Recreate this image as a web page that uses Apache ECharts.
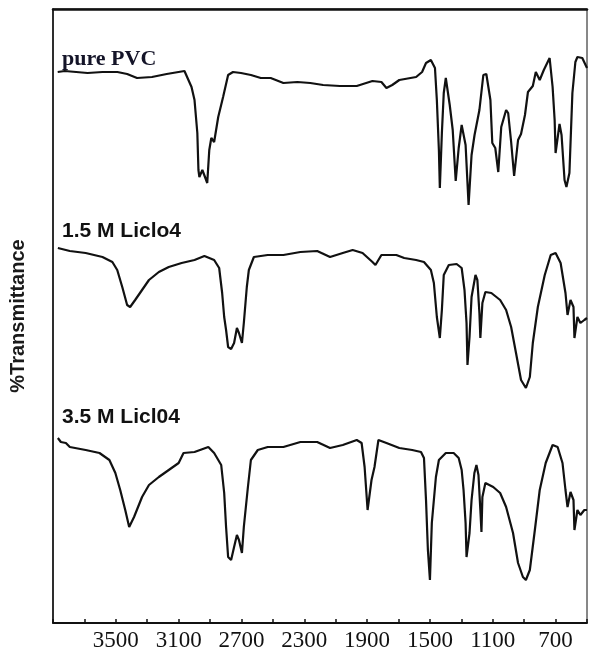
<!DOCTYPE html>
<html>
<head>
<meta charset="utf-8">
<script src="https://cdn.jsdelivr.net/npm/echarts@6/dist/echarts.min.js"></script>
<style>
html,body{margin:0;padding:0;background:#fff;}
#chart{width:590px;height:655px;}
</style>
</head>
<body>
<div id="chart"></div>
<script>
// FTIR spectra, wavenumber (cm-1) vs stacked transmittance (a.u.)
var sampleNames = ['pure PVC', '1.5 M Liclo4', '3.5 M Licl04'];
var tickLabels = [3500, 3100, 2700, 2300, 1900, 1500, 1100, 700];

var pvcWn = [3870,3825,3680,3585,3490,3428,3365,3270,3176,3063,3018,2999,2981,2974,2968,2949,2937,2918,2905,2892,2874,2848,2817,2785,2754,2703,2640,2577,2514,2433,2344,2262,2180,2073,1966,1866,1809,1777,1740,1695,1588,1550,1525,1494,1468,1456,1443,1437,1424,1412,1399,1374,1355,1336,1317,1298,1273,1254,1235,1216,1204,1185,1160,1141,1115,1103,1084,1065,1046,1015,1002,983,964,939,920,895,876,845,826,801,775,738,719,706,700,675,662,643,631,612,593,574,561,530,500];
var pvcT = [551,552,550,551,551,549,545,546,549,552,536,523,490,453,446,453,448,440,473,485,481,506,526,548,551,550,548,545,545,540,541,540,538,537,537,542,541,535,538,543,546,551,560,563,555,523,473,435,490,530,545,518,493,442,475,498,478,418,468,488,486,513,548,549,523,480,475,451,496,513,510,481,447,483,489,508,531,537,551,543,553,565,536,503,470,499,488,443,436,450,530,561,566,565,555];

var li15Wn = [3869,3793,3692,3585,3522,3491,3459,3428,3409,3377,3333,3289,3226,3163,3081,2999,2936,2874,2842,2823,2810,2798,2785,2766,2747,2729,2716,2697,2685,2666,2653,2621,2533,2433,2325,2218,2136,2055,1992,1929,1866,1847,1809,1714,1664,1588,1538,1494,1475,1456,1437,1424,1412,1380,1330,1298,1280,1267,1261,1248,1235,1210,1198,1185,1179,1166,1147,1109,1053,1015,983,952,920,889,864,845,813,769,731,700,668,637,624,605,586,580,561,542,517,500];
var li15T = [375,372,370,366,361,353,336,318,316,323,333,343,351,356,360,363,367,363,355,330,306,293,276,274,280,295,290,280,300,336,353,366,368,368,371,372,366,370,373,370,361,358,368,368,365,363,361,353,340,306,285,313,348,358,359,355,333,300,258,286,326,348,343,310,285,320,331,330,323,313,296,270,243,235,246,280,316,348,368,370,360,330,308,323,316,285,306,300,303,305];

var li35Wn = [3869,3850,3818,3793,3692,3604,3541,3503,3472,3440,3415,3384,3333,3289,3226,3163,3100,3069,2999,2911,2874,2829,2810,2798,2785,2766,2747,2729,2716,2697,2685,2659,2640,2596,2533,2433,2325,2218,2136,2055,1966,1935,1916,1897,1872,1853,1828,1777,1695,1613,1557,1538,1525,1513,1500,1488,1462,1443,1399,1349,1317,1298,1286,1273,1267,1248,1235,1217,1204,1191,1179,1172,1166,1147,1097,1053,1015,971,939,908,889,864,832,801,763,719,687,656,637,624,605,586,580,561,542,517,500];
var li35T = [185,181,180,176,173,170,163,150,133,113,96,106,126,138,146,153,160,170,171,176,170,158,130,96,66,63,76,88,83,70,96,136,163,173,176,176,181,181,175,178,183,180,156,113,143,156,183,180,175,173,171,165,123,73,43,100,146,163,170,170,165,153,133,100,66,90,123,150,158,148,113,91,126,140,136,130,116,90,60,46,43,53,93,133,160,178,176,160,133,116,131,123,93,113,108,113,113];

function pairs(wn, t) {
	var out = [];
	for (var i = 0; i < wn.length; i++) {
		out.push([wn[i], t[i]]);
	}
	return out;
}

var traceData = [pairs(pvcWn, pvcT), pairs(li15Wn, li15T), pairs(li35Wn, li35T)];
var labelY = [60, 233, 419];

var myChart = echarts.init(document.getElementById('chart'));

var series = [];
for (var i = 0; i < traceData.length; i++) {
	series.push({
		name: sampleNames[i],
		type: 'line',
		data: traceData[i],
		showSymbol: false,
		silent: true,
		animation: false,
		lineStyle: {color: '#111', width: 2.2}
	});
}

var graphics = [];
for (var j = 0; j < sampleNames.length; j++) {
	graphics.push({
		type: 'text',
		left: 62,
		top: labelY[j] - 12,
		style: {
			text: sampleNames[j],
			fill: j === 0 ? '#141428' : '#111',
			font: j === 0 ? 'bold 22px "Liberation Serif"' : 'bold 21px "Liberation Sans"'
		}
	});
}

var myOption = {
	backgroundColor: '#fff',
	animation: false,
	grid: {
		left: 50,
		right: 2,
		top: 9,
		bottom: 32,
		show: true,
		borderColor: '#111',
		borderWidth: 1
	},
	xAxis: [{
		type: 'value',
		inverse: true,
		min: 500,
		max: 3900,
		interval: 200,
		axisLine: {show: true, lineStyle: {color: '#111', width: 2}},
		axisTick: {show: true, inside: true, length: 4, lineStyle: {color: '#111', width: 1.5}},
		splitLine: {show: false},
		axisLabel: {
			margin: 6,
			color: '#111',
			fontFamily: 'Liberation Serif',
			fontSize: 23,
			formatter: function(value) {
				return tickLabels.indexOf(value) >= 0 ? String(value) : '';
			}
		}
	}, {
		// heavy top frame line
		type: 'value',
		position: 'top',
		inverse: true,
		min: 500,
		max: 3900,
		axisLine: {show: true, lineStyle: {color: '#111', width: 2.5}},
		axisTick: {show: false},
		axisLabel: {show: false},
		splitLine: {show: false}
	}],
	yAxis: {
		type: 'value',
		min: 0,
		max: 614,
		name: '%Transmittance',
		nameLocation: 'middle',
		nameGap: 25,
		nameRotate: 90,
		nameTextStyle: {
			color: '#1a1a1a',
			fontFamily: 'Liberation Sans',
			fontWeight: 'bold',
			fontSize: 20
		},
		axisLine: {show: true, lineStyle: {color: '#111', width: 1.5}},
		axisTick: {show: false},
		axisLabel: {show: false},
		splitLine: {show: false}
	},
	graphic: graphics,
	series: series
};
myChart.setOption(myOption);
</script>
</body>
</html>
